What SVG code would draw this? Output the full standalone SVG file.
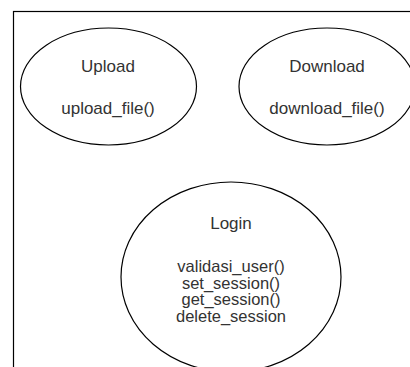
<svg xmlns="http://www.w3.org/2000/svg" width="410" height="367" viewBox="0 0 410 367">
<style>
.shape{fill:#ffffff;stroke:#000000;stroke-width:1.2}
.t{font-family:"Liberation Sans",Arial,sans-serif;font-size:17px;fill:#333333;text-anchor:middle}
.b{font-size:16.5px}
</style>
<rect x="0" y="0" width="410" height="367" fill="#ffffff"/>
<g id="frame"><rect x="13.5" y="11.5" width="420" height="380" fill="none" stroke="#000000" stroke-width="1.2"/></g>
<g id="connectors"></g>
<g id="upload">
<ellipse class="shape" cx="108.5" cy="86.5" rx="88" ry="58.5"/>
<text class="t" x="108" y="72">Upload</text>
<text class="t" x="108" y="114">upload_file()</text>
</g>
<g id="download">
<ellipse class="shape" cx="327" cy="86.5" rx="88" ry="58.5"/>
<text class="t" x="327" y="72">Download</text>
<text class="t" x="327" y="114">download_file()</text>
</g>
<g id="login">
<ellipse class="shape" cx="231" cy="277" rx="110" ry="95"/>
<text class="t" x="231" y="228.5">Login</text>
<text class="t b" x="231" y="272">validasi_user()</text>
<text class="t b" x="231" y="288.7">set_session()</text>
<text class="t b" x="231" y="305.4">get_session()</text>
<text class="t b" x="231" y="322">delete_session</text>
</g>
</svg>
